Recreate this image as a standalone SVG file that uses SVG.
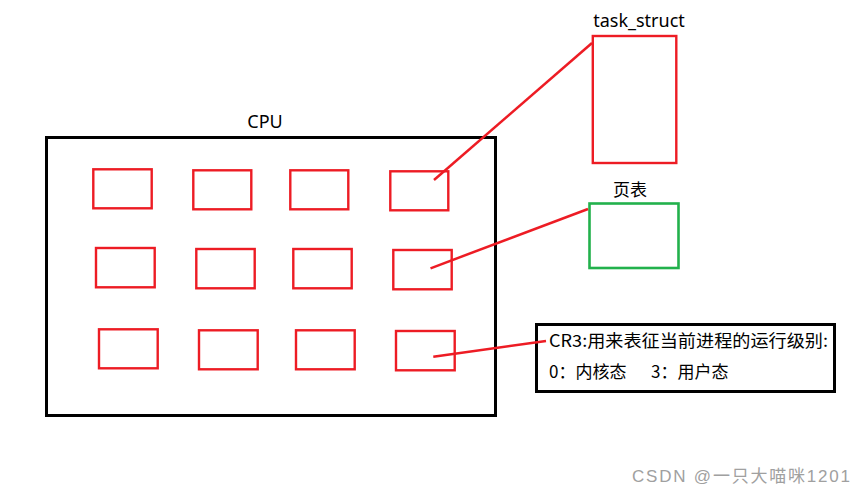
<svg xmlns="http://www.w3.org/2000/svg" width="866" height="497" viewBox="0 0 866 497">
<style>
.reg{fill:none;stroke:#ed1c24;stroke-width:2.4}
.lbl{font-family:"Noto Sans","Noto Sans CJK SC",sans-serif;font-size:18px;fill:#000}
.cn{font-family:"Noto Sans CJK SC","Noto Sans",sans-serif;font-size:17px;fill:#000}
.conn{stroke:#ed1c24;stroke-width:2.5;fill:none}
</style>
<rect width="866" height="497" fill="#fff"/>
<g id="cpu">
<rect x="46.5" y="137.5" width="449" height="278" fill="none" stroke="#000" stroke-width="3"/>
<text class="lbl" x="265" y="128" text-anchor="middle">CPU</text>
</g>
<g id="registers">
<rect class="reg" x="93.3" y="169.3" width="58.4" height="39"/>
<rect class="reg" x="193.3" y="170.3" width="58" height="39"/>
<rect class="reg" x="290.3" y="170.3" width="58" height="39"/>
<rect class="reg" x="390.3" y="171.3" width="58" height="39"/>
<rect class="reg" x="96" y="248" width="58.7" height="39.3"/>
<rect class="reg" x="196.3" y="249" width="58.4" height="39.3"/>
<rect class="reg" x="293.3" y="249" width="58.4" height="39.3"/>
<rect class="reg" x="393.3" y="250" width="58.4" height="39.3"/>
<rect class="reg" x="99" y="329.3" width="58.7" height="39"/>
<rect class="reg" x="199" y="330.3" width="58.7" height="39"/>
<rect class="reg" x="296" y="330.3" width="58.7" height="39"/>
<rect class="reg" x="396" y="331" width="58.7" height="39.3"/>
</g>
<g id="task_struct">
<rect x="592.8" y="36" width="83.5" height="127" fill="none" stroke="#ed1c24" stroke-width="2.4"/>
<text class="lbl" x="639" y="27" text-anchor="middle">task_struct</text>
</g>
<g id="page_table">
<rect x="589.5" y="203.5" width="89" height="64.5" fill="none" stroke="#22b14c" stroke-width="2.6"/>
<text class="cn" x="630" y="196" text-anchor="middle">页表</text>
</g>
<g id="cr3">
<rect x="536.5" y="324.5" width="298" height="67" fill="none" stroke="#000" stroke-width="3"/>
<text class="cn" x="549" y="347" textLength="279" lengthAdjust="spacingAndGlyphs">CR3:用来表征当前进程的运行级别:</text>
<text class="cn" x="549" y="378">0：内核态<tspan x="651">3：用户态</tspan></text>
</g>
<g id="connectors">
<line class="conn" x1="434" y1="180" x2="592" y2="43"/>
<line class="conn" x1="430.5" y1="268.3" x2="588" y2="209"/>
<line class="conn" x1="433.3" y1="356.7" x2="546" y2="341"/>
</g>
<text x="850" y="482" text-anchor="end" font-family="Liberation Sans,Noto Sans CJK SC,sans-serif" font-size="17" fill="#a0a0a0" textLength="218">CSDN @一只大喵咪1201</text>
</svg>
